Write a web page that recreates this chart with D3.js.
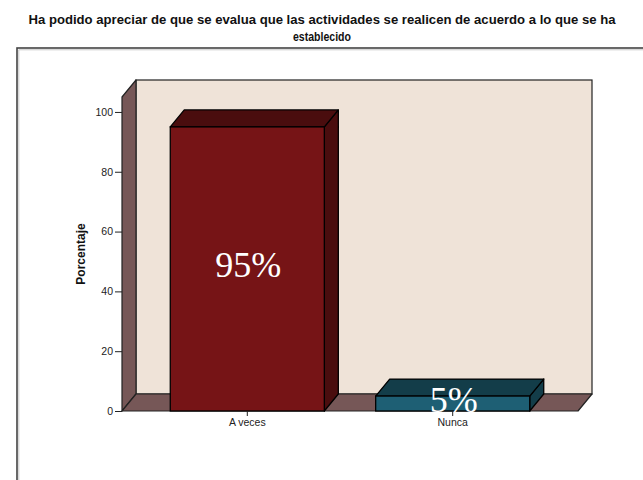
<!DOCTYPE html>
<html><head><meta charset="utf-8">
<script src="https://cdn.jsdelivr.net/npm/d3@7"></script>
<style>body{margin:0;background:#fff}svg{display:block}</style>
</head><body>
<script>
const titleLines = ["Ha podido apreciar de que se evalua que las actividades se realicen de acuerdo a lo que se ha", "establecido"];
const titleWidths = [587, 58];
const categories = ["A veces", "Nunca"];
const values = [95, 5];
const valueLabels = ["95%", "5%"];
const yTicks = [0, 20, 40, 60, 80, 100];
const yLabel = "Porcentaje";
const barColors = [{front:"#761416", dark:"#4a0d0e"}, {front:"#1e5f74", dark:"#133d49"}];

const W = 643, H = 480;
const svg = d3.select("body").append("svg").attr("width", W).attr("height", H);

// outer frame
svg.append("rect").attr("x", 17).attr("y", 48).attr("width", W).attr("height", H)
  .attr("fill", "none").attr("stroke", "#444").attr("stroke-width", 1.6);
svg.append("path").attr("d", `M18.8,${H}V49.8H${W}`).attr("fill","none").attr("stroke","#c8c8c8").attr("stroke-width",1);

// title
svg.selectAll("text.title").data(titleLines).join("text").attr("class","title")
  .attr("x", 322).attr("y", (d,i) => 24 + i*16.5)
  .attr("text-anchor","middle")
  .attr("font-family","'Liberation Sans Narrow','Arial Narrow','Liberation Sans',Arial,sans-serif")
  .attr("font-weight","bold").attr("font-size", 12.5).attr("fill","#111")
  .attr("textLength",(d,i)=>titleWidths[i]).attr("lengthAdjust","spacingAndGlyphs")
  .text(d => d);

const x0 = 122, x1 = 578, dx = 14, dy = 17;
const y = d3.scaleLinear().domain([0,105]).range([411, 97]);
const x = d3.scaleBand().domain(categories).range([x0, x1]).paddingInner(0.25).paddingOuter(0.235);

const g = svg.append("g");
const yTop = y(105), yBot = y(0);
// back wall
g.append("rect").attr("x", x0+dx).attr("y", yTop-dy).attr("width", x1-x0).attr("height", yBot-yTop)
  .attr("fill","#efe3d8").attr("stroke","#222").attr("stroke-width",1.2);
// left wall
g.append("polygon").attr("points", [[x0,yBot],[x0,yTop],[x0+dx,yTop-dy],[x0+dx,yBot-dy]].join(" "))
  .attr("fill","#765757").attr("stroke","#222").attr("stroke-width",1.2).attr("stroke-linejoin","round");
// floor
g.append("polygon").attr("points", [[x0,yBot],[x1,yBot],[x1+dx,yBot-dy],[x0+dx,yBot-dy]].join(" "))
  .attr("fill","#765757").attr("stroke","#222").attr("stroke-width",1.2).attr("stroke-linejoin","round");

// bars
const bars = g.selectAll("g.bar").data(categories.map((c,i)=>({c, v: values[i], lab: valueLabels[i], col: barColors[i]})))
  .join("g").attr("class","bar");
bars.each(function(d){
  const s = d3.select(this);
  const bx = x(d.c), bw = x.bandwidth(), by = y(d.v);
  s.append("polygon").attr("points", [[bx+bw,by],[bx+bw+dx,by-dy],[bx+bw+dx,yBot-dy],[bx+bw,yBot]].join(" "))
    .attr("fill", d.col.dark).attr("stroke","#000").attr("stroke-width",1.3).attr("stroke-linejoin","round");
  s.append("polygon").attr("points", [[bx,by],[bx+bw,by],[bx+bw+dx,by-dy],[bx+dx,by-dy]].join(" "))
    .attr("fill", d.col.dark).attr("stroke","#000").attr("stroke-width",1.3).attr("stroke-linejoin","round");
  s.append("rect").attr("x", bx).attr("y", by).attr("width", bw).attr("height", yBot-by)
    .attr("fill", d.col.front).attr("stroke","#000").attr("stroke-width",1.3);
});

// y axis
const ya = svg.append("g").attr("transform", `translate(${x0},0)`)
  .call(d3.axisLeft(y).tickValues(yTicks).tickSize(7).tickPadding(2));
ya.select(".domain").remove();
ya.selectAll("line").attr("stroke","#222");
ya.selectAll("text").attr("font-family","'Liberation Sans',Arial,sans-serif").attr("font-size",10.5).attr("fill","#222");

// x axis
const xa = svg.append("g").attr("transform", `translate(0,${yBot})`)
  .call(d3.axisBottom(x).tickSize(5).tickPadding(3));
xa.select(".domain").remove();
xa.selectAll("line").attr("stroke","#222");
xa.selectAll("text").attr("font-family","'Liberation Sans',Arial,sans-serif").attr("font-size",10.5).attr("fill","#222");

// y label
svg.append("text").attr("transform","translate(85,254) rotate(-90)").attr("text-anchor","middle")
  .attr("font-family","'Liberation Sans',Arial,sans-serif").attr("font-weight","bold").attr("font-size",12)
  .attr("fill","#111").text(yLabel);

// value labels
bars.append("text")
  .attr("x", d => x(d.c) + x.bandwidth()/2 + 1)
  .attr("y", d => (y(d.v) + yBot)/2 + 8)
  .attr("text-anchor","middle")
  .attr("font-family","'Liberation Serif','DejaVu Serif',serif").attr("font-size",36)
  .attr("fill","#fff").text(d => d.lab);
</script>
</body></html>
